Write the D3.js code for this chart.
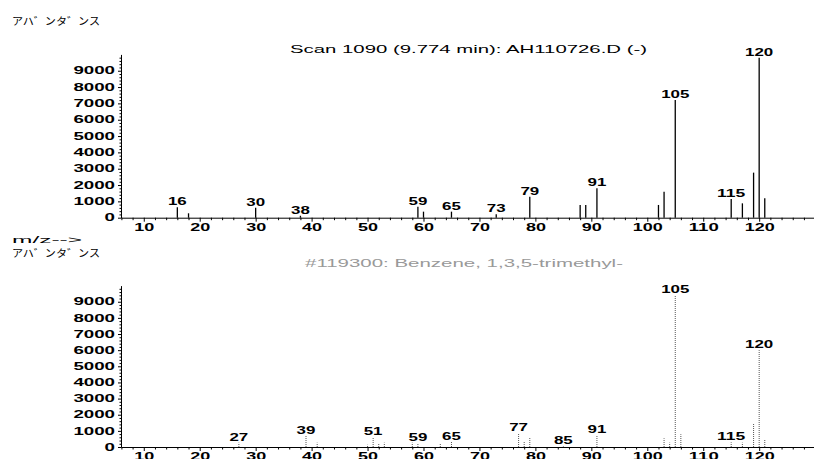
<!DOCTYPE html>
<html>
<head>
<meta charset="utf-8">
<script src="https://cdn.jsdelivr.net/npm/d3@7"></script>
<style>
  body { margin: 0; background: #fff; }
  svg { display: block; }
  .lbl { font-family: 'Liberation Sans', Arial, sans-serif; font-weight: bold; font-size: 10px; fill: #000; }
  .ttl { font-family: 'Liberation Sans', Arial, sans-serif; font-weight: normal; font-size: 10.5px; fill: #000; }
  .jp { font-family: 'Noto Sans CJK JP', sans-serif; font-size: 10.5px; fill: #000; }
</style>
</head>
<body>
<svg id="canvas"></svg>
<script>
// scan spectrum (top)
let topTitle = 'Scan 1090 (9.774 min): AH110726.D (-)'
let topMz = [16, 18, 30, 38, 59, 60, 65, 73, 79, 88, 89, 91, 102, 103, 105, 115, 117, 119, 120, 121]
let topAbund = [640, 270, 610, 120, 670, 370, 370, 210, 1290, 780, 780, 1800, 780, 1590, 7200, 1150, 880, 2760, 9800, 1190]
let topLabels = [16, 30, 38, 59, 65, 73, 79, 91, 105, 115, 120]

// library spectrum (bottom)
let libTitle = '#119300: Benzene, 1,3,5-trimethyl-'
let libMz = [27, 39, 41, 50, 51, 52, 53, 58, 59, 63, 65, 77, 78, 79, 85, 91, 103, 104, 105, 106, 115, 117, 119, 120, 121]
let libAbund = [270, 680, 270, 140, 600, 230, 270, 270, 230, 230, 330, 850, 330, 560, 40, 740, 540, 270, 9400, 790, 290, 270, 1470, 6000, 480]
let libLabels = [27, 39, 51, 59, 65, 77, 85, 91, 105, 115, 120]

let yTicks = d3.range(0, 10000, 1000)
let xTicks = d3.range(10, 130, 10)

let width = 814
let height = 459

let svg = d3.select('#canvas').attr('width', width).attr('height', height)

let x = d3.scaleLinear().domain([5.93, 129.8]).range([121, 814])

// stretch text so it looks like the wide plotter font
let widen = (sel, perChar) => {
    sel.each(function () {
        let t = d3.select(this)
        let n = t.text().length
        if (n > 0) t.attr('textLength', n * perChar).attr('lengthAdjust', 'spacingAndGlyphs')
    })
}

let drawPanel = (mz, abund, labels, y, solid) => {
    let g = svg.append('g')
    let y0 = y(0)

    // minor ticks
    g.append('g')
        .attr('transform', `translate(0,${y0})`)
        .call(d3.axisBottom(x).tickValues(d3.range(6, 130, 2).filter(d => d % 10 !== 0)).tickSize(2.5).tickFormat(''))
        .call(a => a.select('.domain').remove())
    g.append('g')
        .attr('transform', 'translate(121,0)')
        .call(d3.axisLeft(y).tickValues(d3.range(200, 10000, 200).filter(d => d % 1000 !== 0)).tickSize(1.5).tickFormat(''))
        .call(a => a.select('.domain').remove())

    let xa = g.append('g')
        .attr('transform', `translate(0,${y0})`)
        .call(d3.axisBottom(x).tickValues(xTicks).tickSize(4).tickSizeOuter(0).tickPadding(2))
    xa.selectAll('text').attr('class', 'lbl').attr('font-size', null).attr('font-family', null)
        .call(widen, 10)

    let ya = g.append('g')
        .attr('transform', 'translate(121,0)')
        .call(d3.axisLeft(y).tickValues(yTicks).tickSize(3).tickSizeOuter(0).tickPadding(3).tickFormat(d3.format('d')))
    ya.selectAll('text').attr('class', 'lbl').attr('font-size', null).attr('font-family', null)
        .call(widen, 10.4)
    g.selectAll('.domain, .tick line').attr('stroke', '#000')

    g.selectAll('line.peak')
        .data(mz)
        .enter()
        .append('line')
        .attr('class', 'peak')
        .attr('x1', d => x(d))
        .attr('x2', d => x(d))
        .attr('y1', y0)
        .attr('y2', (d, i) => y(abund[i]))
        .attr('stroke', solid ? '#000' : '#555')
        .attr('stroke-width', solid ? 1.3 : 1)
        .attr('stroke-dasharray', solid ? null : '1,1')

    g.selectAll('text.plab')
        .data(labels)
        .enter()
        .append('text')
        .attr('class', 'lbl plab')
        .attr('x', d => x(d))
        .attr('y', d => y(abund[mz.indexOf(d)]) - 2)
        .attr('text-anchor', 'middle')
        .text(d => d)
        .call(widen, 9.4)
}

let yTop = d3.scaleLinear().domain([0, 10000]).range([217.7, 54.4])
let yBot = d3.scaleLinear().domain([0, 10000]).range([447, 285.6])

drawPanel(topMz, topAbund, topLabels, yTop, true)
drawPanel(libMz, libAbund, libLabels, yBot, false)

// titles
svg.append('text').attr('class', 'ttl')
    .attr('x', 468.5).attr('y', 53).attr('text-anchor', 'middle')
    .text(topTitle).attr('textLength', 357).attr('lengthAdjust', 'spacingAndGlyphs')
svg.append('text').attr('class', 'ttl').style('fill', '#999')
    .attr('x', 464).attr('y', 267).attr('text-anchor', 'middle')
    .text(libTitle).attr('textLength', 318).attr('lengthAdjust', 'spacingAndGlyphs')

// axis captions
svg.append('text').attr('class', 'jp').attr('x', 12).attr('y', 25)
    .text('アハ゛ンタ゛ンス').attr('textLength', 88).attr('lengthAdjust', 'spacingAndGlyphs')
svg.append('text').attr('class', 'ttl').style('font-size', '9px').attr('x', 12).attr('y', 243)
    .text('m/z-->').attr('textLength', 70).attr('lengthAdjust', 'spacingAndGlyphs')
svg.append('text').attr('class', 'jp').attr('x', 12).attr('y', 257)
    .text('アハ゛ンタ゛ンス').attr('textLength', 88).attr('lengthAdjust', 'spacingAndGlyphs')
</script>
</body>
</html>
